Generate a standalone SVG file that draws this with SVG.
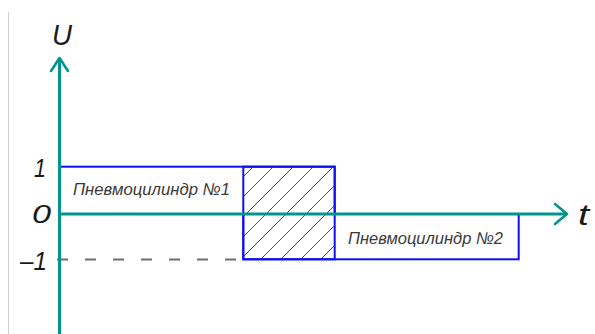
<svg xmlns="http://www.w3.org/2000/svg" width="595" height="334" viewBox="0 0 595 334">
  <style>
    .axis { stroke: #00968f; stroke-width: 3; fill: none; }
    .head { stroke: #00968f; stroke-width: 2.6; fill: none; stroke-linecap: round; stroke-linejoin: round; }
    .zone { stroke: #1010f0; stroke-width: 2; fill: none; }
    .hatch { stroke: #3a3a3a; stroke-width: 0.9; }
    .lbl { font-family: "Liberation Sans", Arial, sans-serif; font-style: italic; fill: #1a1a1a; }
    .name { font-family: "Liberation Sans", Arial, sans-serif; font-style: italic; font-size: 17px; fill: #3a3a3a; }
  </style>
  <defs>
    <clipPath id="overlapClip">
      <rect x="243.3" y="166.7" width="91.4" height="92.6"/>
    </clipPath>
  </defs>
  <rect width="595" height="334" fill="#fff"/>
  <!-- left frame edge -->
  <line x1="8.5" y1="12" x2="8.5" y2="334" stroke="#cfcfcf" stroke-width="1"/>

  <!-- level -1 guide -->
  <line x1="57" y1="259.5" x2="243" y2="259.5" stroke="#6e6e6e" stroke-width="1.8" stroke-dasharray="11 17"/>

  <g id="cylinder1">
    <rect class="zone" x="60" y="166.7" width="274.7" height="47.3"/>
    <text class="name" x="73" y="194.5" textLength="157" lengthAdjust="spacingAndGlyphs">Пневмоцилиндр №1</text>
  </g>

  <g id="cylinder2">
    <rect class="zone" x="243.3" y="214" width="275.4" height="45.3"/>
    <text class="name" x="348" y="243.5" textLength="155" lengthAdjust="spacingAndGlyphs">Пневмоцилиндр №2</text>
  </g>

  <g id="overlap">
    <g clip-path="url(#overlapClip)" class="hatch">
      <line x1="220" y1="200" x2="420" y2="0"/>
      <line x1="220" y1="220" x2="440" y2="0"/>
      <line x1="220" y1="240" x2="460" y2="0"/>
      <line x1="220" y1="260" x2="480" y2="0"/>
      <line x1="220" y1="280" x2="500" y2="0"/>
      <line x1="220" y1="300" x2="520" y2="0"/>
      <line x1="220" y1="320" x2="540" y2="0"/>
      <line x1="220" y1="340" x2="560" y2="0"/>
      <line x1="220" y1="360" x2="580" y2="0"/>
    </g>
    <rect class="zone" x="243.3" y="166.7" width="91.4" height="92.6"/>
  </g>

  <g id="axes">
    <line class="axis" x1="59.5" y1="58" x2="59.5" y2="334"/>
    <polyline class="head" points="51,71 59.5,58 68,71"/>
    <line class="axis" x1="59.5" y1="214" x2="566" y2="214"/>
    <polyline class="head" points="555,204 567,214 555,224"/>
  </g>

  <g id="labels">
    <text class="lbl" x="52" y="45" font-size="30" textLength="20" lengthAdjust="spacingAndGlyphs">U</text>
    <text class="lbl" x="578" y="225" font-size="30" textLength="11" lengthAdjust="spacingAndGlyphs">t</text>
    <text class="lbl" x="34" y="177" font-size="26" textLength="12" lengthAdjust="spacingAndGlyphs">1</text>
    <text class="lbl" x="32" y="223" font-size="26" textLength="19" lengthAdjust="spacingAndGlyphs">0</text>
    <text class="lbl" x="20" y="270" font-size="26" textLength="27" lengthAdjust="spacingAndGlyphs">–1</text>
  </g>
</svg>
